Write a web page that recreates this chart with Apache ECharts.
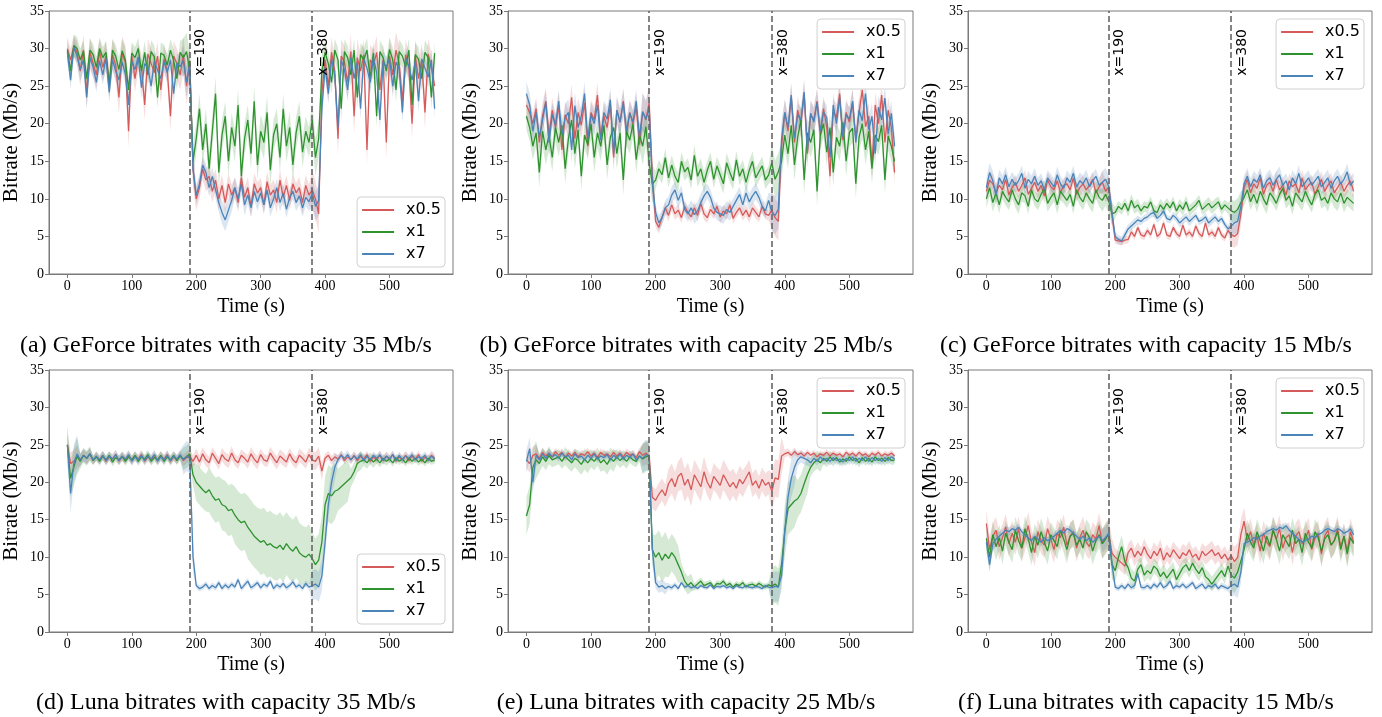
<!DOCTYPE html>
<html><head><meta charset="utf-8">
<script src="https://cdn.jsdelivr.net/npm/echarts@6/dist/echarts.min.js"></script>
<style>html,body{margin:0;padding:0;background:#fff}#c{width:1382px;height:717px}</style>
</head><body><div id="c"></div>
<script>
// sampling grid: one value every 5 s, 0..570 s
const times = [];
for (let t = 0; t <= 570; t += 5) times.push(t);
const xTicks = [0, 100, 200, 300, 400, 500];
const yTicks = [0, 5, 10, 15, 20, 25, 30, 35];
const seriesNames = ['x0.5', 'x1', 'x7'];
const captions = [
  '(a) GeForce bitrates with capacity 35 Mb/s',
  '(b) GeForce bitrates with capacity 25 Mb/s',
  '(c) GeForce bitrates with capacity 15 Mb/s',
  '(d) Luna bitrates with capacity 35 Mb/s',
  '(e) Luna bitrates with capacity 25 Mb/s',
  '(f) Luna bitrates with capacity 15 Mb/s'
];
const switchTimes = [190, 380];

// ---------- (a) GeForce 35 ----------
const aRed = [30,28.5,30.3,29.5,27,29.8,24,29.5,28,26.5, 29.6,27.5,29,25.5,29.2,27.8,23.5,29.4,28.2,19,
 29,26,28.8,27.5,22.5,29.3,28,26.8,29,24.5, 28.6,27.2,21,29,28,26.5,29.2,25,28.4,14,
 10,11.5,14,12.5,13,11,12.5,10,11.8,9.5, 12,10.5,11.5,9.5,12.8,10.2,11.5,9,12,10.8,
 11.5,9.2,12.3,10.5,11.2,9.5,12.5,10.2,11.8,9.8, 12,10.8,11.5,9.5,11.8,10.5,11.2,10,8,24,
 28.5,25,29.5,27,18,29,28.2,25.5,29.6,21, 28.8,27,29.2,16.5,28.5,27.8,29.5,24.5,28.5,17.5,
 29,26.5,29.8,28,23,29.2,27.5,20,29,26, 28.5,21.5,29.3,27.5,25];
const aGreen = [29.8,27,30.4,30,28.5,29.6,26,29.8,29.2,27.5, 30,28.8,29.5,25,29.8,29,27.2,29.7,28.5,24.5,
 29.4,28.8,30,27,29.5,26.5,29.6,28.9,23.5,29.4, 29.1,27.8,29.8,28.4,26,29.5,28.8,29.6,27,15,
 18,22,16.5,20,14,19,24,13.5,18.5,21, 15,19.5,17,22.5,13,18,20.5,16,23,14.5,
 19,17.5,21.5,13.8,18.5,20,15.5,22,17,19.5, 14.5,18.8,21,16.2,19,17.5,20.5,15.5,18,27,
 29.5,28,25.5,29.8,28.5,22,29.6,28.8,26.5,29.8, 23.5,29.2,28.5,29.8,26,29.4,21,29.6,28.8,27,
 29.9,28.5,24.5,29.6,29,27.5,29.8,22.5,29.2,28.6, 26,29.5,28.8,23.5,29.4];
const aBlue = [29.5,25.8,30.2,29,27.2,28.5,23.5,28.8,27.5,25.5, 28.4,26.5,28.7,24.2,28.5,27,25.8,28.2,26.6,22.5,
 28.3,27.2,28.9,24.8,28,27.5,25,28.4,27.1,26, 28.3,26.8,28.5,24,28.1,27.6,28.4,25.5,28,14,
 10.5,12,14.5,13.5,11.5,13,11.2,9.5,8.2,7.2, 8.5,9.8,11.5,10,12,9.2,10.5,8.8,11,9.6,
 10.8,9.2,11.2,8.8,10,11.5,9.5,10.8,8.6,10.2, 11,9.5,10.4,8.8,10.2,9.6,10.8,9,9.8,22,
 27.5,24,28.6,26.5,19.5,28.5,27.2,24.5,28.8,26, 28.2,22,28.6,27.4,25.5,28.8,26.8,20.5,28.3,27.5,
 28.6,25,28.2,27.3,21.5,28.7,27.6,25.8,28.4,23, 28.6,27.4,26.2,28.5,22];
// band half-widths, one per 20 s bin
const aRedSd = [1.5,2,1.8,2,2.2,1.8,2,1.8,2,2.5, 1.5,1.5,1.4,1.3,1.4,1.3,1.4,1.3,1.4,2.5, 2,2.2,2.4,2,2.2,2.4,2,2.2,2];
const aGreenSd = [1.5,1.5,1.4,1.5,1.6,1.4,1.5,1.4,1.5,2.5, 2,2.2,2,2.1,2,2.2,2,2.1,2,2.5, 1.5,1.6,1.5,1.6,1.5,1.6,1.5,1.6,1.5];
const aBlueSd = [1.2,1.5,1.3,1.4,1.3,1.4,1.3,1.2,1.3,2, 1.2,1.2,1.5,1.4,1.2,1.1,1.2,1.1,1.2,2, 1.4,1.5,1.4,1.5,1.4,1.5,1.4,1.5,1.4];

// ---------- (b) GeForce 25 ----------
const bRed = [22.5,21.5,20,22,17.5,21,23,18.5,21.8,19.5, 22.5,16.5,21.2,20,23.5,18,21.5,19.8,22.8,17,
 21.5,20.5,23.8,18.2,21,19.5,22.5,15.5,21.8,20.2, 23,18.5,21.5,20,22.2,17.2,21.6,20.5,22.8,13,
 7,6.2,7.5,8.8,7.8,9.2,8,8.5,7.5,9, 8.2,7.6,8.8,7.8,9.4,8,7.5,8.6,8,9,
 7.6,8.4,8,9.2,7.4,8.2,8.8,7.8,8.5,7.6, 8.8,8.2,7.6,9,8,7.8,8.5,7.5,7,17,
 21.5,19,23.5,17.5,21.8,20,24,16,21.2,20.5, 23,18.5,22,19.5,13,21.6,20.8,24,17.8,21.5,
 20.2,22.8,18,21.5,24.5,19.6,21,14.5,22.5,20, 23.8,17.5,21.8,19.5,13.5];
const bGreen = [21,19.5,17,18.8,13.5,19,16.5,18.5,15.5,19.5, 17.5,19.8,14,18,20.5,16,19.2,13,18.5,17.2,
 20,15.5,18.8,17,19.8,14.5,18.2,19.5,16,18.8, 12.5,19,17.8,20,15.2,18.5,17,19.6,14.8,12,
 12.5,14,13.2,15.5,12.8,14.5,13,12.2,15,13.6, 14.2,12.5,15.8,13,14,12.2,13.8,15,12.6,14.4,
 13.2,12,14.8,13.5,12.4,15.2,13,14,12.2,13.8, 15,12.8,13.6,14.4,12.5,13.2,14.8,12.6,13.6,15,
 18.5,16,19.8,14.5,18.2,20.5,12.5,18.8,17.5,19.2, 11,18.5,20,16.2,19.5,13.5,18.2,17,20.2,15,
 18.8,19.4,12,18.2,20,16.5,19,14,18.5,17.6, 19.8,12.5,18.4,17,15];
const bBlue = [24,22.5,19,21.5,18.2,20.5,22.8,17.5,21.2,19.8, 23,18.5,20.8,21.5,16.5,22.4,19.5,21,24,18,
 21.2,20,22.5,17.8,21.5,20.6,23.2,16,21.8,20.2, 22.8,19,21.4,20.2,23,18.2,21.6,20.6,22,12,
 8.2,6.8,7.5,8.8,9.2,10.5,11.2,9.8,10.8,8.6, 8,8.8,7.9,8.4,9.5,10.4,11,10.2,8.8,8.2,
 8,7.8,8.6,8.2,9,9.8,10.6,9.2,10.8,9.6, 10.4,11,10.2,9,8.4,9.8,8.2,7.8,8.6,18,
 21.5,19.5,23.8,18,21.2,20.5,24.2,16.5,21.4,20.2, 22.8,19,21.6,20.8,15.5,22.5,20,23.5,18.2,21.2,
 20.6,23,17.5,21.8,20.4,24,19.2,21,16,22.2, 20.5,23.4,18.6,21.4,17];
const bRedSd = [1.5,1.8,1.7,1.8,1.9,1.7,1.8,1.7,1.8,2.5, 0.8,0.8,0.7,0.8,0.7,0.8,0.7,0.8,0.7,2.5, 1.8,1.9,1.8,1.7,1.8,1.9,1.8,1.7,1.8];
const bGreenSd = [1.8,2,1.9,2,1.8,2,1.9,2,1.8,2.5, 1.2,1.3,1.2,1.4,1.2,1.3,1.2,1.3,1.2,2.5, 2,1.9,2,1.8,2,1.9,2,1.8,2];
const bBlueSd = [1.6,1.7,1.6,1.8,1.6,1.7,1.6,1.8,1.6,2.5, 1,1.1,1,1.2,1,1.1,1,1.1,1,2.5, 1.7,1.6,1.8,1.6,1.7,1.6,1.8,1.6,1.7];

// ---------- (c) GeForce 15 ----------
const cRed = [11,12.5,12,10.8,11.8,11.2,12.6,10.5,11.5,12.2, 11,11.8,12.8,10.6,11.4,12.2,11,11.8,10.4,12.5,
 11.6,11.2,12.4,10.8,11.8,12,11.2,12.8,10.6,11.5, 12,11.2,11.8,12.6,10.8,11.6,12.2,11,11.6,8,
 4.5,4.4,4.3,4.5,4.6,5.6,5,6.2,5.2,5, 5.8,5.2,6.6,5,5.4,6.8,5.2,5,6.2,5.4,
 5,6.5,5.2,5.6,5,6.4,5.4,5,6.8,5.2, 5.6,5,6.2,5.2,4.8,5.8,5.2,5,5.4,8,
 11.5,12.6,10.8,12,11.4,12.8,10.6,11.8,12.2,11, 12.6,11.2,11.8,10.5,12.4,11.6,12,10.8,12.8,11.2,
 11.8,12.2,10.6,11.6,12.6,11,11.8,12.4,10.8,11.5, 12.2,11,11.8,12.4,11];
const cGreen = [10,11.5,9.5,10.8,9.2,11,10.2,9.6,11.2,10, 9.2,10.8,10.4,9,11.2,10,9.6,10.6,11.4,9.4,
 10.2,10.8,9.2,11,10.4,9.8,10.6,9,11.2,10.2, 9.6,10.8,10,9.4,11.2,10.2,9.8,10.6,9.6,8,
 8.2,9,8.6,9.4,8.4,9.8,8.8,9.2,8.4,9, 8.8,9.6,8.4,8.2,9.2,8.6,9.4,8.8,9.6,8.4,
 9.2,8.6,9.6,8.4,8.8,9.2,9.8,8.6,9,9.4, 8.8,9.2,9.6,8.6,9.2,8.8,8.4,8.2,8.6,9.5,
 10.2,11.2,9.6,10.6,9.4,11,10,9.2,10.8,10.2, 9.4,10.6,11.4,9.8,10.4,9,10.8,10.2,9.6,11,
 10,9.2,10.6,11.2,9.8,10.2,9.4,10.8,10,9.6, 10.8,9.4,10.2,9.8,9.4];
const cBlue = [11.5,13.5,12.4,10.5,12.8,12,13.2,11.6,12.6,11.8, 12.4,13.4,11.4,12.6,12,13,11.8,12.4,11.2,12.8,
 12.2,11.6,13.2,12,11.4,12.8,12.2,13.4,11.6,12.4, 12,12.8,11.6,12.4,13,11.8,12.2,12.6,11.6,8,
 5,4.6,4.4,5.2,6,6.4,6.8,7.2,7,7.4, 7.6,8,8.2,7.4,7.8,8.4,7.4,7.2,7.8,7.4,
 6.8,7.2,7.6,7,7.4,7.8,7,7.2,7.6,6.8, 7.2,7.6,7,7.4,6.6,6,6.4,6.8,7,9,
 12,13,11.6,12.6,12.2,13.2,11.4,12.4,12.8,11.8, 12.6,13.2,11.8,12.4,11.2,12.8,12,13.4,11.6,12.2,
 12.8,11.8,12.4,13,11.6,12.2,12.8,11.4,12.4,13, 12,12.6,13.6,11.8,12.4];
const cRedSd = [1.2,1.1,1,1.1,1,1.1,1,1.1,1,1.5, 0.5,0.5,0.5,0.5,0.5,0.5,0.5,0.5,0.5,1.5, 1.1,1,1.1,1,1.1,1,1.1,1,1.1];
const cGreenSd = [1.2,1.1,1.2,1,1.1,1.2,1,1.1,1.2,1.5, 0.7,0.8,0.7,0.8,0.7,0.8,0.7,0.8,0.7,1.5, 1.1,1.2,1,1.1,1.2,1,1.1,1.2,1.1];
const cBlueSd = [1.3,1.1,1,1.1,1,1.1,1,1.1,1,1.5, 0.6,0.6,0.5,0.6,0.5,0.6,0.5,0.6,0.5,1.5, 1.1,1,1.1,1,1.1,1,1.1,1,1.1];

// ---------- (d) Luna 35 ----------
const dRed = [25,22.5,22.8,23.4,23,23.6,23.2,23.8,22.9,23.5, 23,23.6,22.8,23.4,23.1,23.7,22.8,23.4,23,23.6,
 22.9,23.5,23.1,23.7,22.8,23.4,23,23.6,22.9,23.5, 23.1,23.7,22.8,23.4,23,23.6,22.9,23.3,23.5,22.8,
 23.6,22.7,23.8,23,22.6,23.9,23.2,22.5,23.7,23.1, 22.8,23.9,23,22.6,23.6,23.2,22.7,23.8,23.1,22.6,
 23.7,23,22.8,23.9,23.2,22.6,23.5,23.1,22.7,23.8, 23,22.6,23.6,23.2,22.7,23.7,23,22.8,23.5,21.5,
 23.2,23.6,22.9,23.4,23.1,23.7,22.9,23.4,23,23.6, 22.9,23.5,23.1,23.7,22.8,23.4,23,23.6,22.9,23.5,
 23.1,23.7,22.8,23.4,23,23.6,22.9,23.5,23.1,23.7, 22.8,23.4,23,23.6,23.2];
const dGreen = [25,20.5,22,23.5,22.8,23.6,23.2,23.8,22.9,23.4, 22.8,23.5,23,23.6,22.7,23.3,23,23.5,22.8,23.4,
 23,23.6,22.8,23.4,23.1,23.7,22.8,23.3,23,23.6, 22.8,23.4,23,23.6,22.9,23.5,23.1,23.4,23.8,21,
 20,19.5,19,18.6,19,18.2,17.6,17.8,17,16.8, 16.2,16.4,15.6,15,14.6,14.8,14,13.4,12.8,12.4,
 12,12.2,11.6,11.8,11.4,11.2,11.6,11,11.8,11.2, 10.8,11.4,10.6,10.2,10,10.4,9.8,9,9.6,12,
 17,18.5,18.2,18.8,19,19.4,19.8,20.2,20.6,21.4, 22.5,22.8,23,22.6,23.2,22.7,23.1,22.6,23.2,22.8,
 23.1,22.6,23.3,22.8,23.1,22.6,23.2,22.8,23.2,22.7, 23.1,22.6,23.2,22.8,23];
const dBlue = [25,18.5,22.5,23.8,23,23.6,23.2,23.8,23,23.5, 23,23.6,22.9,23.5,23.1,23.7,22.9,23.5,23.1,23.7,
 22.8,23.4,23,23.6,22.9,23.5,23.1,23.7,22.8,23.4, 23,23.6,22.9,23.5,23.1,23.7,23,23.5,23.2,10,
 6.2,5.8,6,6.4,5.8,6.2,5.9,6.6,5.8,6.3, 5.9,6.4,6,7,5.8,6.3,6.8,5.9,6.2,6.6,
 5.9,6.4,6.1,6.8,5.8,6.3,6,6.5,5.9,6.2, 6.7,6,6.3,5.8,6.5,6,6.2,6.4,6,7.5,
 12,17,20,22,23,23.6,23.2,23.7,23,23.5, 23.1,23.7,22.9,23.5,23,23.6,23.2,23.7,22.9,23.5,
 23.1,23.7,22.9,23.6,23,23.5,23.2,23.7,23,23.4, 23.2,23.6,22.9,23.5,23.1];
const dRedSd = [1.5,0.8,0.6,0.6,0.6,0.6,0.6,0.6,0.6,0.8, 0.9,0.8,0.9,0.8,0.9,0.8,0.9,0.8,0.9,1.2, 0.6,0.5,0.6,0.5,0.6,0.5,0.6,0.5,0.6];
const dGreenSd = [2.5,1,0.6,0.6,0.6,0.6,0.6,0.6,0.6,1.5, 2.5,3,3.4,3.8,4.2,4.4,4.4,4.2,4,3.5, 3.8,2.8,1.2,0.8,0.6,0.5,0.5,0.5,0.5];
const dBlueSd = [2.5,0.8,0.6,0.6,0.6,0.6,0.6,0.6,0.6,2, 0.4,0.4,0.4,0.4,0.4,0.4,0.4,0.4,0.4,2, 1.8,0.6,0.5,0.5,0.5,0.5,0.5,0.5,0.5];

// ---------- (e) Luna 25 ----------
const eRed = [23,22.5,23.6,23.8,23.2,24,23.5,23.9,23.4,24.1, 23.6,24,23.3,23.9,23.5,24,23.4,23.8,23.6,24.1,
 23.5,23.9,23.3,24,23.6,23.8,23.4,24,23.5,23.9, 23.4,24,23.6,23.8,23.3,24.1,23.6,23.9,23.5,18,
 17.6,18.4,19,18.2,19.8,20.5,19.4,20.8,21.2,19.6, 20.4,19,21,20.2,19.4,21.4,20,19.2,20.8,20.2,
 19.6,21,20.2,19.4,20,19.2,20.4,19.8,20.6,21.4, 19.6,20.2,19.2,20.4,19.6,20,18.8,20.6,20.4,23.5,
 23.8,24,23.6,24.1,23.7,23.9,23.5,24,23.6,23.9, 23.4,23.8,23.6,24,23.5,23.9,23.6,23.8,23.4,24,
 23.6,23.9,23.5,24,23.6,23.8,23.4,23.9,23.6,24, 23.5,23.8,23.6,23.9,23.5];
const eGreen = [15.5,17,22,23,22.5,23.4,22.8,23.6,23,23.2, 23.4,22.8,23.5,23,22.6,23.2,22.9,22.4,23.1,22.6,
 23.2,22.8,23.4,22.6,23,22.4,23.2,22.8,23.4,22.9, 23.3,22.8,23.4,23,22.8,23.5,23.1,23.4,23.6,11,
 10,10.6,9.6,10.4,9.8,10.6,10,9,8,6.8, 6.2,6.6,6,6.4,6.8,6.2,6.4,6.6,6,6.5,
 6.4,6.8,6.2,6.5,6,6.4,6.2,6.6,6,6.3, 6.4,6.1,6.5,6.2,6,6.3,6.1,6.4,6,9,
 13.5,16.5,17,17.5,17.8,18.5,19.8,21,22,22.6, 23,22.6,23.2,22.8,23.4,22.9,23.3,22.7,23.1,22.8,
 23.4,22.9,23.2,22.6,23.3,22.8,23.2,22.7,23.4,22.9, 23.2,22.8,23.3,22.9,23];
const eBlue = [22.8,24.5,20,23.6,23,23.8,23.2,23.9,23.4,23.7, 23.2,23.9,23.4,23.6,23,23.8,23.3,23.5,23,23.6,
 23.2,23.8,23.1,23.5,23.3,23.7,23,23.6,23.2,23.8, 23.1,23.6,23.3,23.8,23,23.5,23.2,23.7,23.4,11,
 6.6,6,6.2,5.8,6.1,5.9,6.3,5.8,6.6,6, 6.2,5.9,6.1,5.8,6.2,6,5.9,6.3,5.8,6.1,
 6,6.2,5.9,6.1,5.8,6.2,6,5.9,6.2,6, 5.9,6.1,6,5.8,6.2,6,5.9,6.1,6,7.5,
 13.5,18,20.5,22,23,23.4,23.2,23,22.6,23.2, 22.8,23.4,22.9,23.2,22.8,23.3,22.9,23.1,22.7,23.2,
 22.9,23.4,22.8,23.2,22.9,23.4,22.8,23.3,22.9,23.2, 22.8,23.3,22.9,23.4,23.1];
const eRedSd = [1.2,0.6,0.5,0.5,0.5,0.5,0.5,0.5,0.5,1.5, 1.5,2,2.2,2,1.8,2,1.8,1.6,1.6,2.5, 0.5,0.4,0.4,0.4,0.4,0.4,0.4,0.4,0.4];
const eGreenSd = [2.5,1.2,1,1.2,1.4,1.2,1.4,1,0.8,2, 3,2.5,1.2,0.5,0.4,0.4,0.4,0.4,0.4,2.5, 3.5,2.5,1.2,0.8,0.6,0.6,0.6,0.6,0.6];
const eBlueSd = [1.5,0.6,0.5,0.5,0.5,0.5,0.5,0.5,0.5,2, 0.8,0.4,0.3,0.3,0.3,0.3,0.3,0.3,0.3,2, 2.5,0.8,0.6,0.6,0.6,0.6,0.6,0.6,0.6];

// ---------- (f) Luna 15 ----------
const fRed = [14.5,11,12.8,13.6,11.4,12.6,14,11.8,13.2,12, 13.8,11.2,12.6,14.2,12,10.6,13.4,12.2,11.6,13.8,
 12.4,11,13.2,12.6,14,11.6,12.8,13.4,11.2,12.6, 13.6,12,11.4,13,12.4,14.2,11.8,12.6,13,10.5,
 10,9.6,9.2,8.8,10.6,11.2,10,10.8,10.2,11.4, 10.4,9.8,10.8,10.2,11.2,9.6,10.6,10,11,10.4,
 9.8,10.6,10.2,11,10,10.4,9.6,10.8,10.2,10.6, 11,10.2,10.6,9.8,10.4,9.6,10.2,9.4,10,13,
 14.8,12.2,13.4,11.6,12.8,10.8,13.2,12,11.4,13.6, 12.4,13.8,11.2,12.6,13,10.6,12.8,13.4,11.8,12.4,
 13.6,11,12.6,13.2,10.4,12.8,13.6,11.6,12.2,13.8, 11.4,12.8,10.8,13.4,12];
const fGreen = [12.5,10,13,11.4,12.6,10.8,13.2,12,11,13.6, 12.2,11.2,13.8,12.4,10.6,12.8,11.6,13.4,12,10.8,
 13,12.2,11.4,13.6,12.4,11,12.8,13.2,11.6,12.4, 11.2,13.4,12.6,10.8,12.2,13,11.8,12.4,13.2,9,
 8.2,10,11.4,9.4,8.6,7.2,6.8,8.4,9,7.6, 8.2,7.8,8.8,8.4,7.4,8,7.2,7.8,8.4,7,
 7.8,8.6,9,8.2,9.2,8.4,7.8,8.6,7.4,7, 6.4,7,7.6,8.2,7.4,8.8,7.6,7.2,8,9.5,
 11,13.2,12,11.2,13.4,12.2,10.8,12.8,11.6,13.6, 12.4,10.8,13,12.2,11.4,13.6,11.8,12.4,10.6,13.2,
 12,11.2,13.4,12.6,10.8,12.4,13,11.6,12.2,13.4, 11,12.8,10.4,12.6,11.8];
const fBlue = [12,9,11.8,12.4,12.8,13.2,13.6,13.4,13.8,13.6, 14,13.4,13,12.6,12.2,12.8,12.4,12,12.6,12.2,
 12.4,12.8,13.2,13.6,13.2,13.8,13.6,13.2,12.8,12.4, 12.8,12.2,12.6,12,12.4,12.8,12.2,12.6,13.2,9,
 6,5.8,6.2,5.8,6.4,5.9,6.2,7.8,6,5.9, 6.2,5.8,6.4,6,6.6,5.9,6.2,6.8,5.8,6.2,
 6,6.4,5.9,6.2,6.6,5.8,6.1,6.4,5.8,6.2, 6,6.4,5.8,6.2,6,5.8,6.2,6.4,6,8,
 11.8,12,12.2,12.6,12.4,12.8,13,13.4,13.6,13.8, 13.6,14,13.8,14.2,13.6,13.2,12.8,12.4,12,12.2,
 12.4,12.8,12.6,13,13.2,13.6,13.8,13.6,13.4,13.8, 13.6,13.2,13.4,13.8,13];
const fRedSd = [1.8,1.8,1.7,1.8,1.7,1.8,1.7,1.8,1.7,2, 1.2,1.2,1.1,1.2,1.1,1.2,1.1,1.2,1.1,2, 1.8,1.7,1.8,1.7,1.8,1.7,1.8,1.7,1.8];
const fGreenSd = [1.8,1.7,1.8,1.7,1.8,1.7,1.8,1.7,1.8,2, 1.5,1.2,1,1,1,1,1,1,1,2, 1.8,1.7,1.8,1.7,1.8,1.7,1.8,1.7,1.8];
const fBlueSd = [1,0.6,0.5,0.5,0.5,0.5,0.5,0.5,0.5,1.5, 0.4,0.4,0.4,0.4,0.4,0.4,0.4,0.4,0.4,1.5, 0.6,0.5,0.5,0.5,0.5,0.5,0.5,0.5,0.5];

const panels = [
  [aRed, aGreen, aBlue, aRedSd, aGreenSd, aBlueSd],
  [bRed, bGreen, bBlue, bRedSd, bGreenSd, bBlueSd],
  [cRed, cGreen, cBlue, cRedSd, cGreenSd, cBlueSd],
  [dRed, dGreen, dBlue, dRedSd, dGreenSd, dBlueSd],
  [eRed, eGreen, eBlue, eRedSd, eGreenSd, eBlueSd],
  [fRed, fGreen, fBlue, fRedSd, fGreenSd, fBlueSd]
];

// ---------- layout / style ----------
const colors = ['#d65a5a', '#2e922e', '#4a84b8'];
const bandColors = ['rgba(214,90,90,0.2)', 'rgba(46,146,46,0.2)', 'rgba(74,132,184,0.2)'];
const spine = '#7a7a7a';
const serif = 'Liberation Serif';
const sans = 'DejaVu Sans';
const gridPos = [
  {left: 49, top: 11, width: 404, height: 263},
  {left: 508, top: 11, width: 405, height: 263},
  {left: 968, top: 11, width: 404, height: 263},
  {left: 49, top: 370, width: 404, height: 262},
  {left: 508, top: 370, width: 405, height: 262},
  {left: 968, top: 370, width: 404, height: 262}
];
const legendPos = [
  {right: 937, bottom: 450},
  {right: 477, top: 19},
  {right: 18, top: 19},
  {right: 937, bottom: 93},
  {right: 477, top: 378},
  {right: 18, top: 378}
];
const captionPos = [[226, 346], [686, 346], [1146, 346], [226, 703], [686, 703], [1146, 703]];

const grids = [], xAxes = [], yAxes = [], series = [], legends = [], graphics = [];
panels.forEach((p, k) => {
  grids.push(Object.assign({show: true, borderColor: spine, borderWidth: 1, containLabel: false}, gridPos[k]));
  xAxes.push({
    type: 'value', gridIndex: k, min: -28.5, max: 598.5,
    name: 'Time (s)', nameLocation: 'middle', nameGap: 23,
    nameTextStyle: {fontFamily: serif, fontSize: 20, color: '#000'},
    axisLine: {show: true, onZero: false, lineStyle: {color: spine, width: 1}},
    axisTick: {show: true, customValues: xTicks, length: 4, lineStyle: {color: spine}},
    axisLabel: {customValues: xTicks, fontFamily: serif, fontSize: 14, color: '#000', margin: 5},
    splitLine: {show: false}
  });
  yAxes.push({
    type: 'value', gridIndex: k, min: 0, max: 35, interval: 5,
    name: 'Bitrate (Mb/s)', nameLocation: 'middle', nameGap: 27,
    nameTextStyle: {fontFamily: serif, fontSize: 21, color: '#000'},
    axisLine: {show: true, onZero: false, lineStyle: {color: spine, width: 1}},
    axisTick: {show: true, length: 4, lineStyle: {color: spine}},
    axisLabel: {fontFamily: serif, fontSize: 14, color: '#000', margin: 5},
    splitLine: {show: false}
  });
  // bands
  for (let s = 0; s < 3; s++) {
    const vals = p[s], sd = p[s + 3];
    series.push({
      type: 'custom', xAxisIndex: k, yAxisIndex: k, silent: true, z: 1,
      data: [[0, 0]], clip: true,
      renderItem: (params, api) => {
        const up = [], lo = [];
        for (let i = 0; i < times.length; i++) {
          const w = sd[Math.floor(times[i] / 20)];
          up.push(api.coord([times[i], vals[i] + w]));
          lo.push(api.coord([times[i], Math.max(0, vals[i] - w)]));
        }
        return {type: 'polygon', shape: {points: up.concat(lo.reverse())}, style: {fill: bandColors[s], stroke: null}};
      }
    });
  }
  // mean lines
  for (let s = 0; s < 3; s++) {
    const ser = {
      type: 'line', name: seriesNames[s], xAxisIndex: k, yAxisIndex: k, z: 2 + s,
      data: times.map((t, i) => [t, p[s][i]]),
      showSymbol: false, symbol: 'none', color: colors[s],
      lineStyle: {width: 1.3, color: colors[s]}, clip: true
    };
    if (s === 2) {
      ser.markLine = {
        silent: true, symbol: ['none', 'none'], animation: false,
        lineStyle: {type: [6, 3], color: '#666', width: 1.6},
        label: {show: true, position: 'insideEndBottom', fontFamily: sans, fontSize: 14, color: '#000', distance: 4,
                padding: [0, 14, 0, 0], formatter: (d) => 'x=' + d.value},
        data: switchTimes.map(v => ({xAxis: v}))
      };
    }
    series.push(ser);
  }
  legends.push(Object.assign({
    orient: 'vertical', data: seriesNames, icon: 'rect', itemWidth: 32, itemHeight: 2, itemGap: 6,
    backgroundColor: '#fff', borderColor: '#d0d0d0', borderWidth: 1, borderRadius: 4,
    padding: [5, 4, 5, 5], selectedMode: false,
    textStyle: {fontFamily: sans, fontSize: 16, color: '#000', lineHeight: 16, padding: [0, 0, 0, 7]}
  }, legendPos[k]));
  graphics.push({
    type: 'text', x: captionPos[k][0], y: captionPos[k][1],
    style: {text: captions[k], font: '24px "Liberation Serif"', fill: '#000', textAlign: 'center', textVerticalAlign: 'middle'}
  });
});

// sanity check on array lengths
panels.forEach((p, k) => { for (let s = 0; s < 3; s++) { if (p[s].length !== times.length || p[s + 3].length !== 29) {
  graphics.push({type: 'text', x: 600, y: 20 + 14 * (k * 3 + s), style: {text: 'LEN ERR panel ' + k + ' s' + s + ': ' + p[s].length + '/' + p[s+3].length, fill: 'red', font: '12px sans-serif'}});
}}});

const chart = echarts.init(document.getElementById('c'), null, {renderer: 'canvas'});
chart.setOption({
  animation: false, backgroundColor: '#fff',
  grid: grids, xAxis: xAxes, yAxis: yAxes, series: series, legend: legends, graphic: graphics
});
</script></body></html>
